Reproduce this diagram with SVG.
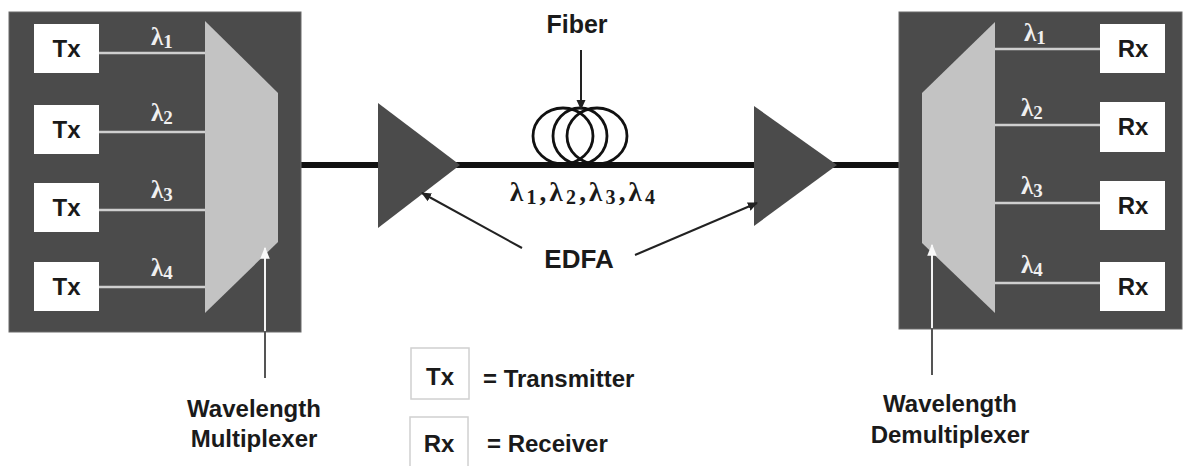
<svg xmlns="http://www.w3.org/2000/svg" width="1189" height="466" viewBox="0 0 1189 466">
<style>
.panel{fill:#4b4b4b;stroke:#6a6a6a;stroke-width:1}
.box{fill:#ffffff}
.lbox{fill:#ffffff;stroke:#d0d0d0;stroke-width:1.5}
.mux{fill:#c3c3c3}
.ch{stroke:#cfcfcf;stroke-width:2.5;fill:none}
.amp{fill:#4b4b4b}
.bt{font-family:"Liberation Sans",Arial,sans-serif;font-weight:bold;fill:#1a1a1a}
.lam{font-family:"Liberation Serif","Times New Roman",serif;font-weight:bold;fill:#f0f0f0;font-size:25px}
.lamc{font-family:"Liberation Serif","Times New Roman",serif;font-weight:bold;fill:#1a1a1a;font-size:27px}
.coil{fill:none;stroke:#111;stroke-width:2.8}
.arr{stroke:#222;stroke-width:2;fill:none}
.warr{stroke:#f4f4f4;stroke-width:2;fill:none}
.garr{stroke:#555;stroke-width:2;fill:none}
</style>
<defs>
<marker id="ah" viewBox="0 0 10 10" refX="9" refY="5" markerWidth="10" markerHeight="10" orient="auto" markerUnits="userSpaceOnUse">
<path d="M0,0.5 L10,5 L0,9.5 z" fill="#222"/>
</marker>
<marker id="wah" viewBox="0 0 10 10" refX="9" refY="5" markerWidth="12" markerHeight="12" orient="auto" markerUnits="userSpaceOnUse">
<path d="M0,1 L10,5 L0,9 z" fill="#f8f8f8"/>
</marker>
</defs>
<rect width="1189" height="466" fill="#ffffff"/>

<g id="fiber-line">
<line x1="301" y1="165" x2="899" y2="165" stroke="#111" stroke-width="6"/>
</g>

<g id="mux-panel">
<rect class="panel" x="9" y="12" width="292" height="320"/>
<polygon class="mux" points="205,21 278,93 278,242 205,313"/>
<line class="ch" x1="99" y1="53" x2="205" y2="53"/>
<line class="ch" x1="99" y1="132" x2="205" y2="132"/>
<line class="ch" x1="99" y1="210" x2="205" y2="210"/>
<line class="ch" x1="99" y1="287" x2="205" y2="287"/>
<text class="lam" x="151" y="45">λ<tspan font-size="19" dy="3">1</tspan></text>
<text class="lam" x="151" y="121">λ<tspan font-size="19" dy="3">2</tspan></text>
<text class="lam" x="151" y="198">λ<tspan font-size="19" dy="3">3</tspan></text>
<text class="lam" x="151" y="276">λ<tspan font-size="19" dy="3">4</tspan></text>
</g>
<g id="tx1"><rect class="box" x="34" y="24" width="65" height="49"/><text class="bt" x="66.5" y="57" font-size="24" text-anchor="middle">Tx</text></g>
<g id="tx2"><rect class="box" x="34" y="105" width="65" height="49"/><text class="bt" x="66.5" y="138" font-size="24" text-anchor="middle">Tx</text></g>
<g id="tx3"><rect class="box" x="34" y="183" width="65" height="49"/><text class="bt" x="66.5" y="216" font-size="24" text-anchor="middle">Tx</text></g>
<g id="tx4"><rect class="box" x="34" y="262" width="65" height="49"/><text class="bt" x="66.5" y="295" font-size="24" text-anchor="middle">Tx</text></g>

<g id="demux-panel">
<rect class="panel" x="899" y="12" width="283" height="317"/>
<polygon class="mux" points="995,22 922,93 922,243 995,313"/>
<line class="ch" x1="995" y1="49" x2="1100" y2="49"/>
<line class="ch" x1="995" y1="125" x2="1100" y2="125"/>
<line class="ch" x1="995" y1="203" x2="1100" y2="203"/>
<line class="ch" x1="995" y1="283" x2="1100" y2="283"/>
<text class="lam" x="1024" y="41">λ<tspan font-size="19" dy="3">1</tspan></text>
<text class="lam" x="1021" y="116">λ<tspan font-size="19" dy="3">2</tspan></text>
<text class="lam" x="1021" y="194">λ<tspan font-size="19" dy="3">3</tspan></text>
<text class="lam" x="1021" y="273">λ<tspan font-size="19" dy="3">4</tspan></text>
</g>
<g id="rx1"><rect class="box" x="1100" y="24" width="65" height="49"/><text class="bt" x="1133" y="57" font-size="24" text-anchor="middle">Rx</text></g>
<g id="rx2"><rect class="box" x="1100" y="102" width="65" height="50"/><text class="bt" x="1133" y="135" font-size="24" text-anchor="middle">Rx</text></g>
<g id="rx3"><rect class="box" x="1100" y="181" width="65" height="49"/><text class="bt" x="1133" y="214" font-size="24" text-anchor="middle">Rx</text></g>
<g id="rx4"><rect class="box" x="1100" y="262" width="65" height="49"/><text class="bt" x="1133" y="295" font-size="24" text-anchor="middle">Rx</text></g>

<g id="amp1"><polygon class="amp" points="378,103 460,165 378,228"/></g>
<g id="amp2"><polygon class="amp" points="754,106 837,165 754,226"/></g>

<g id="fiber">
<ellipse class="coil" cx="563" cy="136" rx="30" ry="28"/>
<ellipse class="coil" cx="580" cy="136" rx="27" ry="28"/>
<ellipse class="coil" cx="597" cy="136" rx="30" ry="28"/>
<text class="bt" x="577" y="33" font-size="25" text-anchor="middle">Fiber</text>
<text class="lamc" x="510" y="201" textLength="145" lengthAdjust="spacing">λ<tspan font-size="20" dy="3">1</tspan><tspan dy="-3">,λ</tspan><tspan font-size="20" dy="3">2</tspan><tspan dy="-3">,λ</tspan><tspan font-size="20" dy="3">3</tspan><tspan dy="-3">,λ</tspan><tspan font-size="20" dy="3">4</tspan></text>
</g>

<g id="edfa-label">
<text class="bt" x="579" y="268" font-size="26" text-anchor="middle">EDFA</text>
</g>

<g id="mux-label">
<text class="bt" x="254" y="417" font-size="24" text-anchor="middle">Wavelength</text>
<text class="bt" x="254" y="447" font-size="24" text-anchor="middle">Multiplexer</text>
</g>
<g id="demux-label">
<text class="bt" x="950" y="412" font-size="24" text-anchor="middle">Wavelength</text>
<text class="bt" x="950" y="443" font-size="24" text-anchor="middle">Demultiplexer</text>
</g>

<g id="legend-tx">
<rect class="lbox" x="411" y="348" width="58" height="51"/>
<text class="bt" x="440" y="385" font-size="24" text-anchor="middle">Tx</text>
<text class="bt" x="483" y="387" font-size="24">= Transmitter</text>
</g>
<g id="legend-rx">
<rect class="lbox" x="410" y="417" width="58" height="51"/>
<text class="bt" x="439" y="452" font-size="24" text-anchor="middle">Rx</text>
<text class="bt" x="487" y="452" font-size="24">= Receiver</text>
</g>

<g id="connectors">
<line class="arr" x1="581" y1="50" x2="581" y2="109" marker-end="url(#ah)"/>
<line class="arr" x1="522" y1="248" x2="422" y2="193" marker-end="url(#ah)"/>
<line class="arr" x1="635" y1="255" x2="757" y2="203" marker-end="url(#ah)"/>
<line class="garr" x1="265" y1="332" x2="265" y2="378"/>
<line class="warr" x1="265" y1="331" x2="265" y2="248" marker-end="url(#wah)"/>
<line class="garr" x1="932" y1="329" x2="932" y2="375"/>
<line class="warr" x1="932" y1="328" x2="932" y2="245" marker-end="url(#wah)"/>
</g>
</svg>
